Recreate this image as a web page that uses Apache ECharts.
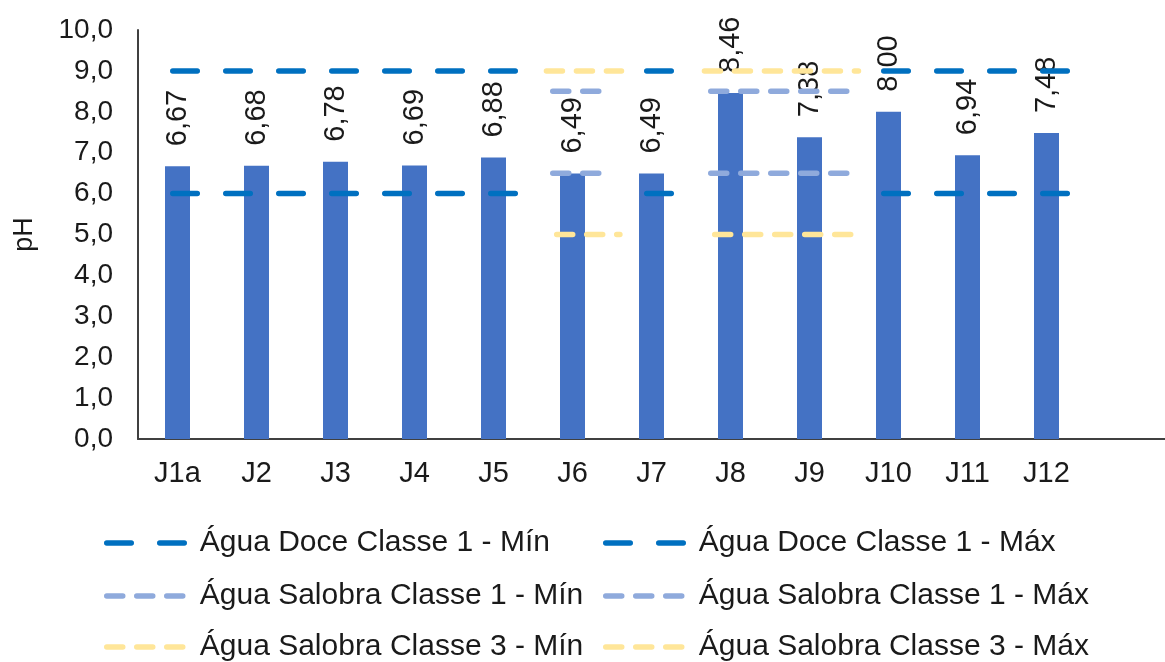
<!DOCTYPE html>
<html>
<head>
<meta charset="utf-8">
<script src="https://cdn.jsdelivr.net/npm/echarts@6/dist/echarts.min.js"></script>
<style>
  html, body { margin: 0; padding: 0; background: #fff; }
  #chart { width: 1165px; height: 662px; }
</style>
</head>
<body>
<div id="chart"></div>
<script>
// pontos de coleta e pH medido
const categories = ['J1a', 'J2', 'J3', 'J4', 'J5', 'J6', 'J7', 'J8', 'J9', 'J10', 'J11', 'J12'];
const phValues = [6.67, 6.68, 6.78, 6.69, 6.88, 6.49, 6.49, 8.46, 7.38, 8.00, 6.94, 7.48];

// limites por ponto (null = não se aplica)
const doceMin = [6, 6, 6, 6, 6, null, 6, null, null, 6, 6, 6];
const doceMax = [9, 9, 9, 9, 9, null, 9, null, null, 9, 9, 9];
const salobra1Min = [null, null, null, null, null, 6.5, null, 6.5, 6.5, null, null, null];
const salobra1Max = [null, null, null, null, null, 8.5, null, 8.5, 8.5, null, null, null];
const salobra3Min = [null, null, null, null, null, 5, null, 5, 5, null, null, null];
const salobra3Max = [null, null, null, null, null, 9, null, 9, 9, null, null, null];

const FONT = 'Liberation Sans, Arial, sans-serif';
const fmt = (v, d) => v.toFixed(d).replace('.', ',');

// agrupa categorias consecutivas com limite definido
function runs(values) {
  const out = [];
  let start = null;
  values.forEach((v, i) => {
    if (v != null && start === null) start = i;
    const next = values[i + 1];
    if (v != null && (next == null || next !== v)) {
      out.push({ from: start, to: i, value: v });
      start = null;
    }
  });
  return out;
}

function limitSeries(name, values, color, dash, pad) {
  return runs(values).map(r => ({
    name: name,
    type: 'line',
    xAxisIndex: 1,
    symbol: 'none',
    silent: true,
    z: 3,
    lineStyle: { color: color, width: 5.5, type: dash, cap: 'round' },
    itemStyle: { color: color },
    data: [[r.from - pad[0], r.value], [r.to + pad[1], r.value]]
  }));
}

const names = {
  doceMin: 'Água Doce Classe 1 - Mín',
  doceMax: 'Água Doce Classe 1 - Máx',
  s1Min: 'Água Salobra Classe 1 - Mín',
  s1Max: 'Água Salobra Classe 1 - Máx',
  s3Min: 'Água Salobra Classe 3 - Mín',
  s3Max: 'Água Salobra Classe 3 - Máx'
};

const dark = '#0070C0', light = '#8FAADC', yellow = '#FFE699';
const longDash = [24.5, 28.5], shortDash = [16, 14];

// uma legenda por item, em 3 linhas x 2 colunas
function legendAt(name, left, top) {
  return {
    data: [name],
    left: left,
    top: top,
    itemWidth: 80,
    itemHeight: 14,
    itemStyle: { opacity: 0 },
    lineStyle: { width: 5.5, cap: 'round' },
    textStyle: { fontFamily: FONT, fontSize: 30, color: '#1a1a1a', padding: [0, 0, 0, 8] }
  };
}

const chart = echarts.init(document.getElementById('chart'));

chart.setOption({
  animation: false,
  textStyle: { fontFamily: FONT },
  grid: { left: 138, top: 30, width: 1037, height: 409 },
  legend: [
    legendAt(names.doceMin, 99, 523),
    legendAt(names.doceMax, 598, 523),
    legendAt(names.s1Min, 99, 576),
    legendAt(names.s1Max, 598, 576),
    legendAt(names.s3Min, 99, 627),
    legendAt(names.s3Max, 598, 627)
  ],
  xAxis: [
    {
      type: 'category',
      data: categories.concat(['']),
      axisLine: { lineStyle: { color: '#404040', width: 2 } },
      axisTick: { show: false },
      axisLabel: { fontFamily: FONT, fontSize: 29, color: '#1a1a1a', margin: 20, interval: 0 }
    },
    { type: 'value', min: -0.5, max: 12.5, show: false }
  ],
  yAxis: {
    type: 'value',
    min: 0,
    max: 10,
    interval: 1,
    name: 'pH',
    nameLocation: 'middle',
    nameRotate: 90,
    nameGap: 100,
    nameTextStyle: { fontFamily: FONT, fontSize: 27, color: '#1a1a1a' },
    axisLine: { show: true, onZero: false, lineStyle: { color: '#404040', width: 2 } },
    axisTick: { show: false },
    splitLine: { show: false },
    axisLabel: { fontFamily: FONT, fontSize: 28, color: '#1a1a1a', margin: 25, formatter: v => fmt(v, 1) }
  },
  series: [
    {
      name: 'pH',
      type: 'bar',
      data: phValues,
      barWidth: 25,
      itemStyle: { color: '#4472C4' },
      label: {
        show: true,
        position: 'top',
        rotate: 90,
        align: 'left',
        verticalAlign: 'middle',
        distance: 20,
        fontFamily: FONT,
        fontSize: 29,
        color: '#1a1a1a',
        formatter: p => fmt(p.value, 2)
      },
      z: 2
    }
  ].concat(
    limitSeries(names.doceMin, doceMin, dark, longDash, [0.06, 0.3]),
    limitSeries(names.doceMax, doceMax, dark, longDash, [0.06, 0.3]),
    limitSeries(names.s1Min, salobra1Min, light, shortDash, [0.25, 0.48]),
    limitSeries(names.s1Max, salobra1Max, light, shortDash, [0.25, 0.48]),
    limitSeries(names.s3Min, salobra3Min, yellow, shortDash, [0.2, 0.6]),
    limitSeries(names.s3Max, salobra3Max, yellow, shortDash, [0.33, 0.62])
  )
});
</script>
</body>
</html>
